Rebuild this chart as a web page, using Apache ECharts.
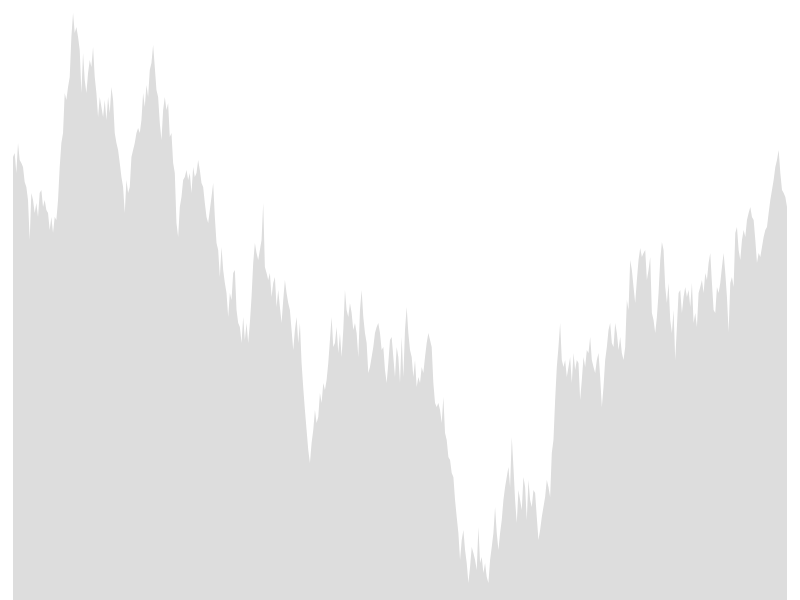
<!DOCTYPE html>
<html>
  <head>
    <title></title>
    <meta charset="UTF-8" />
    <script src="https://cdn.jsdelivr.net/npm/echarts@6/dist/echarts.min.js"></script>
    <style>
      html, body { margin: 0; padding: 0; background: #fff; }
    </style>
  </head>
  <body>
    <div id="main"></div>
    <script>
      const width = 800;
      const height = 600;
      const main = document.getElementById('main');
      main.style.width = `${width}px`;
      main.style.height = `${height}px`;

      // series values left to right (evenly spaced samples)
      const values = [
        443, 447, 427, 457, 440, 437, 433, 418, 413, 400, 360, 407, 400, 387, 397, 383, 407, 410, 393, 400,
        390, 387, 370, 383, 367, 383, 380, 400, 433, 457, 467, 507, 500, 513, 523, 563, 587, 567, 573, 563,
        550, 507, 547, 520, 507, 527, 540, 533, 553, 523, 507, 483, 503, 493, 483, 500, 480, 503, 487, 513,
        500, 467, 457, 450, 437, 423, 413, 387, 420, 407,
        413, 443, 450, 457, 467, 472, 467, 480, 507, 493, 515, 503, 530, 537, 555, 533, 510, 503, 477, 460,
        490, 503, 490, 497, 463, 467, 437, 427, 377, 363, 393, 403, 420, 423, 430, 420, 427, 407, 433, 423,
        427, 440, 430, 417, 413, 397, 383, 377, 390, 403, 417, 383, 357, 350, 323, 353, 330, 317, 307, 283,
        307, 300, 327, 330, 290, 277, 273, 257, 283, 260, 277, 257, 277, 303, 337, 357, 347, 340,
        340, 360, 397, 333, 327, 320, 327, 303, 317, 323, 293, 310, 293, 277, 300, 320, 307, 297, 290, 270,
        250, 270, 283, 257, 277, 237, 212, 190, 170, 150, 137, 157, 170, 190, 177, 183, 207, 197, 217, 210,
        220, 237, 260, 283, 253, 257, 273, 247, 267, 243, 270, 310, 290, 283, 297, 287, 270, 277, 267, 243,
        290, 310, 283, 267, 257, 227, 233, 243, 253, 267, 273, 277, 267, 250, 253, 230, 217, 237, 260, 263,
        243, 223, 253, 243, 217, 263, 223, 270, 293, 267, 250, 243, 223, 240, 213, 223, 217, 233, 227, 243,
        257, 267,
        267, 253, 217, 197, 193, 197, 190, 177, 203, 167, 160, 143, 140, 127, 123, 100, 83, 67, 40, 60,
        70, 50, 37, 17, 33, 53, 47, 40, 30, 73, 37, 43, 27, 37, 23, 17, 40, 53, 67, 93,
        67, 50, 67, 80, 100, 113, 123, 133, 113, 163, 133, 100, 77, 110, 100, 90, 123, 113, 80, 120,
        100, 93, 110, 107, 83, 60, 70, 83, 93, 103, 120, 113, 103, 147, 160, 200, 233, 253, 277, 240,
        233, 240, 223, 233, 243, 217, 247, 230, 240, 237,
        200, 220, 243, 233, 250, 247, 263, 240, 233, 227, 240, 247, 223, 193, 213, 240, 253, 270, 277, 257,
        253, 277, 267, 250, 263, 247, 240, 253, 300, 290, 340, 330, 313, 297, 320, 340, 352, 343, 347, 350,
        320, 330, 343, 287, 280, 267, 283, 307, 340, 358, 350, 313, 297, 317,
        280, 267, 290, 240, 273, 307, 310, 287, 303, 313, 303, 310, 293, 317, 277, 287, 273, 307, 313, 320,
        307, 327, 320, 337, 347, 317, 290, 287, 313, 307, 317, 333, 347, 327, 303, 268, 317, 323, 313, 367,
        373, 350, 340, 360, 370, 363, 380, 387, 393, 383, 380, 360, 337, 347, 343, 353, 363, 370, 373, 387,
        400, 410, 420, 433, 440, 450, 427, 410, 407, 403, 393
      ];

      // one category per sample
      const categories = values.map((v, i) => String(i + 1));

      const myChart = echarts.init(main);
      const option = {
        animation: false,
        grid: {
          left: 13,
          right: 13,
          top: 0,
          bottom: 0,
        },
        xAxis: {
          type: 'category',
          boundaryGap: false,
          data: categories,
          show: false,
        },
        yAxis: {
          type: 'value',
          min: 0,
          max: 600,
          show: false,
        },
        series: [
          {
            type: 'line',
            data: values,
            symbol: 'none',
            smooth: false,
            lineStyle: { width: 0 },
            areaStyle: { color: '#dddddd', opacity: 1 },
          },
        ],
      };
      myChart.setOption(option);
    </script>
  </body>
</html>
